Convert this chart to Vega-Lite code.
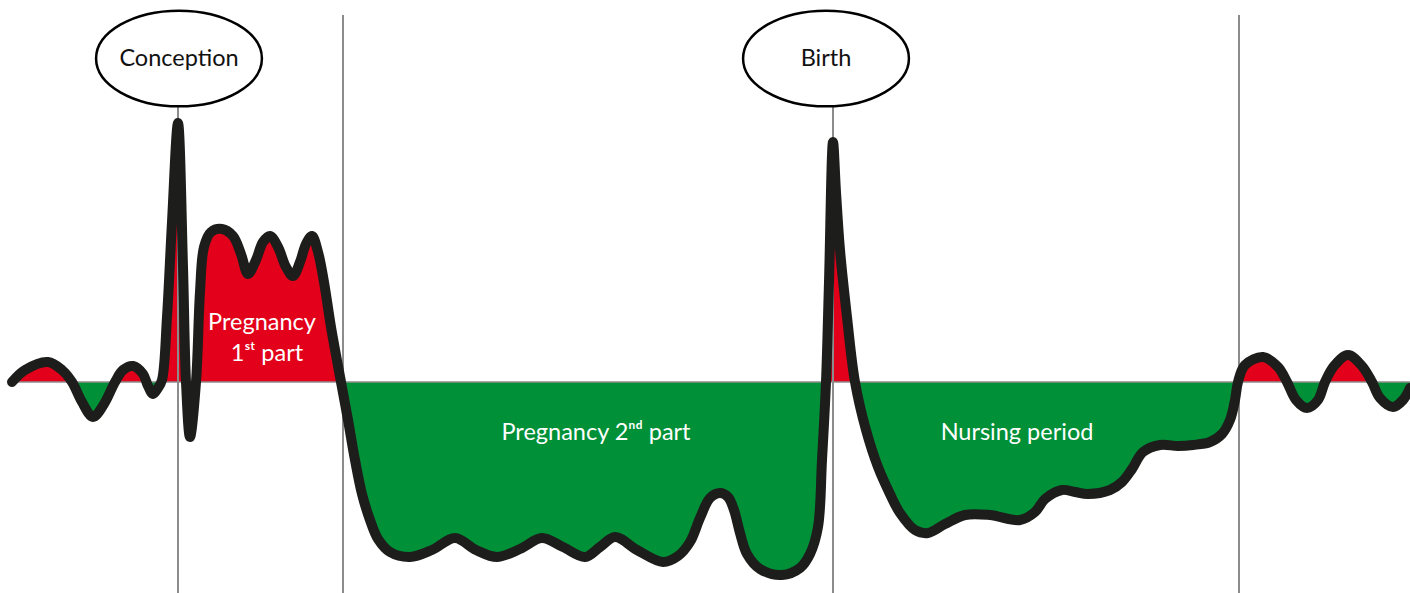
{
  "$schema": "https://vega.github.io/schema/vega-lite/v6.json",
  "width": 1410,
  "height": 593,
  "autosize": {"type": "none"},
  "padding": 0,
  "background": "white",
  "config": {"view": {"stroke": null}},
  "datasets": {
    "curve": [
      {"x":12,"v":0},{"x":25,"v":12},{"x":48,"v":20},{"x":62,"v":12},{"x":72,"v":0},{"x":82,"v":-20},{"x":93,"v":-35},{"x":104,"v":-22},{"x":115,"v":0},{"x":123,"v":12},{"x":133,"v":16},{"x":143,"v":8},{"x":148,"v":-4},{"x":153,"v":-12},{"x":158,"v":-6},{"x":162,"v":2},{"x":167,"v":65},{"x":172,"v":160},{"x":178,"v":259},{"x":183,"v":115},{"x":186,"v":0},{"x":190,"v":-55},{"x":196,"v":0},{"x":200,"v":90},{"x":204,"v":135},{"x":211,"v":150},{"x":222,"v":153},{"x":233,"v":146},{"x":241,"v":128},{"x":248,"v":108},{"x":256,"v":122},{"x":263,"v":140},{"x":270,"v":146},{"x":278,"v":135},{"x":286,"v":115},{"x":293,"v":106},{"x":300,"v":120},{"x":306,"v":138},{"x":312,"v":146},{"x":318,"v":130},{"x":324,"v":100},{"x":331,"v":55},{"x":341,"v":0},{"x":348,"v":-38},{"x":355,"v":-78},{"x":362,"v":-112},{"x":370,"v":-138},{"x":378,"v":-157},{"x":390,"v":-170},{"x":410,"v":-175},{"x":432,"v":-168},{"x":455,"v":-156},{"x":476,"v":-168},{"x":497,"v":-175},{"x":520,"v":-167},{"x":542,"v":-156},{"x":563,"v":-165},{"x":585,"v":-175},{"x":600,"v":-165},{"x":615,"v":-155},{"x":637,"v":-168},{"x":663,"v":-180},{"x":678,"v":-174},{"x":690,"v":-160},{"x":700,"v":-136},{"x":710,"v":-116},{"x":720,"v":-111},{"x":728,"v":-115},{"x":734,"v":-128},{"x":740,"v":-151},{"x":747,"v":-172},{"x":760,"v":-187},{"x":782,"v":-193},{"x":800,"v":-186},{"x":810,"v":-172},{"x":818,"v":-145},{"x":822,"v":-78},{"x":826,"v":0},{"x":829,"v":100},{"x":833,"v":240},{"x":836,"v":190},{"x":840,"v":132},{"x":847,"v":65},{"x":855,"v":0},{"x":866,"v":-48},{"x":878,"v":-85},{"x":890,"v":-112},{"x":900,"v":-131},{"x":915,"v":-148},{"x":928,"v":-151},{"x":945,"v":-142},{"x":965,"v":-133},{"x":990,"v":-133},{"x":1020,"v":-138},{"x":1035,"v":-130},{"x":1045,"v":-117},{"x":1062,"v":-108},{"x":1075,"v":-110},{"x":1088,"v":-112},{"x":1110,"v":-108},{"x":1122,"v":-100},{"x":1132,"v":-87},{"x":1143,"v":-70},{"x":1160,"v":-63},{"x":1178,"v":-64},{"x":1193,"v":-63},{"x":1210,"v":-60},{"x":1222,"v":-52},{"x":1230,"v":-38},{"x":1235,"v":-18},{"x":1238,"v":0},{"x":1245,"v":17},{"x":1263,"v":25},{"x":1278,"v":15},{"x":1287,"v":0},{"x":1296,"v":-18},{"x":1307,"v":-26},{"x":1318,"v":-18},{"x":1325,"v":0},{"x":1334,"v":16},{"x":1348,"v":27},{"x":1362,"v":16},{"x":1372,"v":0},{"x":1380,"v":-16},{"x":1393,"v":-25},{"x":1403,"v":-18},{"x":1410,"v":-6}
    ],
    "verticals": [
      {"x":178,"v":-211,"v2":275},
      {"x":343,"v":-211,"v2":367},
      {"x":833,"v":-211,"v2":275},
      {"x":1239,"v":-211,"v2":367}
    ],
    "base": [{"x":12,"x2":1410,"v":0}],
    "events": [
      {"x":179,"v":323.5,"label":"Conception"},
      {"x":826,"v":323.5,"label":"Birth"}
    ],
    "labels": [
      {"x":262,"v":59,"label":"Pregnancy"},
      {"x":267,"v":28,"label":"1ˢᵗ part"},
      {"x":596,"v":-51,"label":"Pregnancy 2ⁿᵈ part"},
      {"x":1017,"v":-51,"label":"Nursing period"}
    ]
  },
  "encoding": {
    "x": {"field": "x", "type": "quantitative", "scale": {"domain": [0, 1410], "nice": false, "zero": false}, "axis": null},
    "y": {"field": "v", "type": "quantitative", "scale": {"domain": [-211, 382], "nice": false, "zero": false}, "axis": null}
  },
  "layer": [
    {
      "data": {"name": "curve"},
      "mark": {
        "type": "area",
        "interpolate": "catmull-rom",
        "color": {
          "gradient": "linear",
          "x1": 0, "y1": 0, "x2": 0, "y2": 1,
          "stops": [
            {"offset": 0, "color": "#e2001a"},
            {"offset": 0.574, "color": "#e2001a"},
            {"offset": 0.574, "color": "#009038"},
            {"offset": 1, "color": "#009038"}
          ]
        }
      },
      "encoding": {"y2": {"datum": 0}}
    },
    {
      "data": {"name": "base"},
      "mark": {"type": "rule", "color": "#8c8c8c", "strokeWidth": 1.5},
      "encoding": {"x2": {"field": "x2"}}
    },
    {
      "data": {"name": "verticals"},
      "mark": {"type": "rule", "color": "#8c8c8c", "strokeWidth": 2},
      "encoding": {"y2": {"field": "v2"}}
    },
    {
      "data": {"name": "curve"},
      "mark": {"type": "line", "interpolate": "catmull-rom", "color": "#1d1d1b", "strokeWidth": 10, "strokeCap": "round", "strokeJoin": "round"}
    },
    {
      "data": {"name": "events"},
      "mark": {
        "type": "point",
        "shape": "M -1 0 C -1 -0.3187 -0.5523 -0.577 0 -0.577 C 0.5523 -0.577 1 -0.3187 1 0 C 1 0.3187 0.5523 0.577 0 0.577 C -0.5523 0.577 -1 0.3187 -1 0 Z",
        "size": 27500,
        "filled": true,
        "fill": "white",
        "fillOpacity": 1,
        "stroke": "black",
        "strokeWidth": 2.5,
        "opacity": 1
      }
    },
    {
      "data": {"name": "events"},
      "mark": {"type": "text", "font": "Lato", "fontSize": 23.5, "color": "#111111", "baseline": "middle", "align": "center"},
      "encoding": {"text": {"field": "label"}}
    },
    {
      "data": {"name": "labels"},
      "mark": {"type": "text", "font": "Lato, DejaVu Sans", "fontSize": 23.5, "color": "white", "baseline": "middle", "align": "center"},
      "encoding": {"text": {"field": "label"}}
    }
  ]
}
